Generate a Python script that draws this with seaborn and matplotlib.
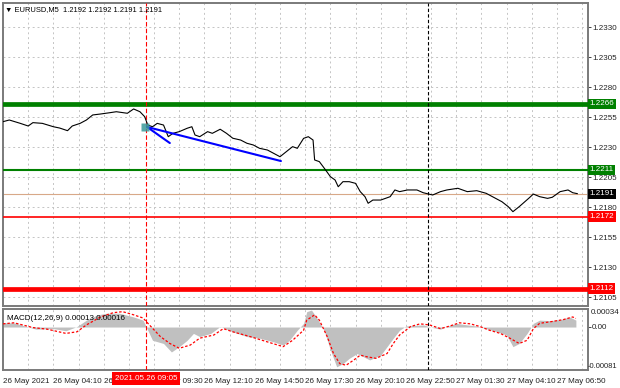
import matplotlib
matplotlib.use("Agg")
import matplotlib.pyplot as plt
import matplotlib.transforms as mtransforms
import numpy as np
import seaborn as sns

sns.set_style("white")
plt.rcParams['font.family'] = ['Liberation Sans', 'DejaVu Sans']

# --- data (x = index of M5 bar, first bar = 26 May 01:30) ---
price_bar = [0, 4, 11, 16, 19, 25, 32, 36, 41, 44, 49, 53, 57, 62, 68, 72, 79, 83, 87, 90,
             92, 95, 98, 102, 105, 108, 112, 117, 120, 122, 125, 130, 133, 138, 142, 146,
             151, 155, 159, 163, 168, 172, 176, 180, 184, 187, 191, 194, 197, 198, 201, 205,
             208, 211, 213, 216, 220, 224, 227, 230, 232, 235, 240, 246, 249, 252, 257, 263,
             267, 273, 278, 282, 289, 295, 301, 307, 313, 317, 321, 324, 328, 334, 337, 341,
             346, 349, 354, 359, 362, 365]
price_val = [1.22511, 1.22525, 1.22497, 1.22475, 1.22503, 1.22497, 1.22469, 1.22458, 1.22436,
             1.22475, 1.22497, 1.22525, 1.22567, 1.22575, 1.22586, 1.22594, 1.22581, 1.22617,
             1.22594, 1.22553, 1.22483, 1.22469, 1.22497, 1.22483, 1.22386, 1.22414, 1.22428,
             1.22456, 1.22469, 1.22400, 1.22386, 1.22428, 1.22414, 1.22448, 1.22414, 1.22373,
             1.22358, 1.22331, 1.22317, 1.22289, 1.22275, 1.22247, 1.22219, 1.22261, 1.22303,
             1.22289, 1.22372, 1.22386, 1.22358, 1.22192, 1.22178, 1.22108, 1.22053, 1.22025,
             1.21969, 1.22011, 1.22011, 1.21997, 1.21928, 1.21886, 1.21831, 1.21858, 1.21858,
             1.21886, 1.21942, 1.21928, 1.21942, 1.21942, 1.21919, 1.21900, 1.21928, 1.21942,
             1.21956, 1.21928, 1.21936, 1.21914, 1.21872, 1.21844, 1.21803, 1.21761, 1.21803,
             1.21872, 1.21908, 1.21886, 1.21872, 1.21881, 1.21928, 1.21942, 1.21919, 1.21911]

macd_bar = [0, 7, 15, 21, 32, 40, 47, 53, 60, 66, 74, 83, 89, 92, 95, 102, 107, 112, 117, 121,
            125, 132, 138, 146, 155, 163, 172, 178, 182, 187, 191, 193, 196, 199, 204, 208,
            212, 216, 220, 225, 229, 233, 240, 244, 248, 252, 256, 261, 267, 273, 278, 282,
            288, 295, 301, 307, 314, 320, 324, 328, 333, 337, 341, 348, 354, 360, 364]
macd_val = [0.00008, 0.00008, 0.00001, -0.00004, -0.00003, -0.00007, 0.00001, 0.00013, 0.00023,
            0.00026, 0.00026, 0.00019, 0.00013, -0.00006, -0.00025, -0.00031, -0.00047,
            -0.00037, -0.00025, -0.00012, -0.00018, -0.00012, 0.00001, -0.00009, -0.00018,
            -0.00021, -0.00028, -0.00034, -0.00025, -0.00006, 0.00007, 0.00029, 0.00032,
            0.00019, -0.00006, -0.00043, -0.00075, -0.00069, -0.00059, -0.00050, -0.00056,
            -0.00062, -0.00053, -0.00037, -0.00021, -0.00006, 0.00002, 0.00003, 0.00004,
            -0.00001, -0.00004, 0.00001, 0.00007, 0.00004, 0.00002, -0.00003, -0.00009,
            -0.00015, -0.00037, -0.00031, -0.00012, 0.00007, 0.00013, 0.00012, 0.00014,
            0.00019, 0.00013]

signal_bar = [0, 7, 15, 19, 28, 40, 47, 53, 62, 70, 76, 83, 89, 93, 100, 106, 112, 119, 125,
              134, 140, 146, 157, 168, 178, 184, 191, 193, 198, 201, 206, 210, 214, 218, 223,
              227, 231, 237, 244, 248, 252, 259, 265, 271, 278, 284, 290, 297, 303, 309, 316,
              322, 328, 333, 337, 341, 348, 356, 362, 364]
signal_val = [0.00006, 0.00008, 0.00002, -0.00001, -0.00004, -0.00012, -0.00009, 0.00004,
              0.00019, 0.00027, 0.00029, 0.00023, 0.00017, 0.00004, -0.00018, -0.00031,
              -0.00040, -0.00034, -0.00021, -0.00015, -0.00003, -0.00009, -0.00018, -0.00028,
              -0.00037, -0.00025, -0.00006, 0.00013, 0.00023, 0.00013, -0.00018, -0.00050,
              -0.00069, -0.00072, -0.00062, -0.00053, -0.00056, -0.00059, -0.00050, -0.00031,
              -0.00015, 0.00001, 0.00006, 0.00004, -0.00003, 0.00002, 0.00008, 0.00006,
              0.00001, -0.00006, -0.00012, -0.00021, -0.00031, -0.00025, -0.00003, 0.00007,
              0.00010, 0.00014, 0.00019, 0.00016]

price_ticks = [1.2330, 1.2305, 1.2280, 1.2255, 1.2230, 1.2205, 1.2180, 1.2155, 1.2130, 1.2105]
green_levels = [1.2266, 1.2211]
red_levels = [1.2172, 1.2112]
bid = 1.2191

trend_start = (91.5, 1.22467)
trend_ends = [(106, 1.22333), (176.6, 1.22183)]

time_labels = ['26 May 2021', '26 May 04:10', '26 May 06:50', '26 May 09:30', '26 May 12:10',
               '26 May 14:50', '26 May 17:30', '26 May 20:10', '26 May 22:50', '27 May 01:30',
               '27 May 04:10', '27 May 06:50']
bars_per_label = 32
signal_bar_pos = 91
signal_time = '2021.05.26 09:05'
day_sep_bar = 270

title = '\u25bc EURUSD,M5  1.2192 1.2192 1.2191 1.2191'
macd_title = 'MACD(12,26,9) 0.00013 0.00016'

# --- figure ---
W, H = 620, 388
fig = plt.figure(figsize=(W / 100, H / 100), dpi=100)
ax = fig.add_axes([3 / W, 1 - 306 / H, 585 / W, 303 / H])
axm = fig.add_axes([3 / W, 1 - 370 / H, 585 / W, 61 / H], sharex=ax)

grid_kw = dict(color='#c4c4c4', lw=0.7, linestyle=(0, (2, 3)))
fs = 5.8
xmax = 371.7
major_x = np.arange(len(time_labels)) * bars_per_label
minor_x = major_x + bars_per_label / 2

for a in (ax, axm):
    a.set_facecolor('white')
    for s in a.spines.values():
        s.set_color('#7a7a7a')
        s.set_linewidth(1.4)
    a.set_xticks(major_x)
    a.set_xticks(minor_x, minor=True)
    a.grid(True, axis='x', which='both', **grid_kw)
    a.axvline(signal_bar_pos, color='#ff0000', lw=0.8, linestyle=(0, (4, 2)), zorder=4)
    a.axvline(day_sep_bar, color='black', lw=0.8, linestyle=(0, (3, 2)), zorder=4)
    a.set_xlabel('')
    a.set_ylabel('')

# main price panel
ax.set_ylim(1.20975, 1.2350)
ax.set_xlim(0, xmax)
ax.set_yticks(price_ticks)
ax.set_yticklabels([f'{p:.4f}' for p in price_ticks])
ax.yaxis.tick_right()
ax.grid(True, axis='y', **grid_kw)
ax.tick_params(axis='y', labelsize=fs, length=2, width=0.6, pad=1, colors='#222222')
ax.tick_params(axis='x', which='both', bottom=False, labelbottom=False)

for lv, lw in zip(green_levels, [3.4, 1.5]):
    ax.axhline(lv, color='#008000', lw=lw, zorder=3)
for lv, lw in zip(red_levels, [1.2, 3.4]):
    ax.axhline(lv, color='#ff0000', lw=lw, zorder=3)
ax.axhline(bid, color='#d8a888', lw=0.8, zorder=2)

sns.lineplot(x=price_bar, y=price_val, ax=ax, color='black', lw=0.8, zorder=5)

for end in trend_ends:
    ax.plot([trend_start[0], end[0]], [trend_start[1], end[1]], color='#0000ff', lw=1.5, zorder=6)
ax.plot([trend_start[0] - 1], [trend_start[1]], marker='s', ms=6, color='#3a9a9a',
        alpha=0.85, mec='none', zorder=7)

ytr = ax.get_yaxis_transform()
box_kw = dict(boxstyle='square,pad=0.2', ec='none')
for lv in green_levels:
    ax.text(1.003, lv, f'{lv:.4f}', transform=ytr, ha='left', va='center', fontsize=fs,
            color='white', bbox=dict(fc='#008000', **box_kw), zorder=10, clip_on=False)
for lv in red_levels:
    ax.text(1.003, lv, f'{lv:.4f}', transform=ytr, ha='left', va='center', fontsize=fs,
            color='white', bbox=dict(fc='#ff0000', **box_kw), zorder=10, clip_on=False)
ax.text(1.003, bid, f'{bid:.4f}', transform=ytr, ha='left', va='center', fontsize=fs,
        color='white', bbox=dict(fc='black', **box_kw), zorder=10, clip_on=False)

ax.text(0.004, 0.98, title, transform=ax.transAxes, ha='left', va='center',
        fontsize=5.4, color='black', zorder=10)

# MACD panel
axm.fill_between(macd_bar, macd_val, 0, color='#c0c0c0', lw=0, zorder=2)
sns.lineplot(x=signal_bar, y=signal_val, ax=axm, color='#ff0000', lw=0.9,
             linestyle=(0, (2, 1.5)), zorder=5)
axm.set_ylim(-0.00081, 0.00034)
axm.set_xlim(0, xmax)
axm.yaxis.tick_right()
axm.set_yticks([0.0])
axm.set_yticklabels([''])
axm.tick_params(axis='y', length=2, width=0.6)
ytm = axm.get_yaxis_transform()
axm.text(1.004, 0.00034, '0.00034', transform=ytm, ha='left', va='top', fontsize=fs, color='#222222')
axm.text(1.006, 0.0, '0.00', transform=ytm, ha='left', va='center', fontsize=fs, color='#222222')
axm.text(1.0, -0.00081, '-0.00081', transform=ytm, ha='left', va='bottom', fontsize=5.5, color='#222222')
axm.text(0.006, 0.84, macd_title, transform=axm.transAxes, ha='left', va='center',
         fontsize=fs, color='black', zorder=10)

axm.set_xticklabels(time_labels, ha='left')
axm.tick_params(axis='x', which='major', labelsize=fs, length=4, width=0.6, pad=2, colors='#222222')
axm.tick_params(axis='x', which='minor', length=2, width=0.6)

xtr = mtransforms.blended_transform_factory(axm.transData, axm.transAxes)
axm.text(signal_bar_pos, -0.135, signal_time, transform=xtr, ha='center', va='center',
         fontsize=fs, color='white', zorder=10, clip_on=False,
         bbox=dict(boxstyle='square,pad=0.35', fc='#ff0000', ec='none'))

fig.savefig('out.png', dpi=100, facecolor='white')
